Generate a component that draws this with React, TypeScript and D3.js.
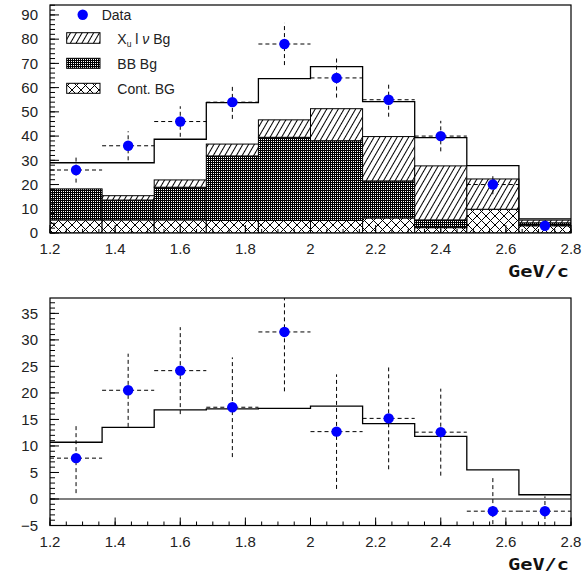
import React from "react";
import * as d3 from "d3";

// bin edges in GeV/c
const binEdges = [1.2, 1.36, 1.52, 1.68, 1.84, 2.0, 2.16, 2.32, 2.48, 2.64, 2.8];

// upper panel
const dataTop = [26, 36, 46, 54, 78, 64, 55, 40, 20, 3];
const errTop = [5.2, 6.0, 6.3, 6.9, 8.7, 8.1, 7.0, 6.3, 4.0, 1.7];
const contBg = [5.4, 5.4, 5.4, 5.2, 5.2, 5.2, 6.2, 2.2, 9.8, 3.0];
const bbBg = [12.8, 8.2, 13.5, 26.6, 34.3, 32.9, 15.3, 3.2, 0, 1.2];
const xulnuBg = [0, 1.8, 3.0, 4.9, 7.2, 13.2, 18.3, 22.3, 12.5, 1.1];
const totalTop = [29.0, 29.0, 38.7, 53.8, 63.7, 68.7, 54.2, 39.4, 27.8, 5.8];

// lower panel (background subtracted)
const dataBot = [7.7, 20.5, 24.2, 17.3, 31.5, 12.7, 15.2, 12.6, -2.3, -2.3];
const errBot = [6.6, 6.9, 8.2, 9.4, 11.2, 10.8, 9.6, 8.2, 6.4, 2.8];
const fitBot = [10.7, 13.5, 16.8, 17.0, 17.1, 17.5, 14.2, 11.8, 5.5, 0.8];

const xTicks = [1.2, 1.4, 1.6, 1.8, 2.0, 2.2, 2.4, 2.6, 2.8];
const xTickLabels = ["1.2", "1.4", "1.6", "1.8", "2", "2.2", "2.4", "2.6", "2.8"];
const yTicksTop = [0, 10, 20, 30, 40, 50, 60, 70, 80, 90];
const yTicksBot = [-5, 0, 5, 10, 15, 20, 25, 30, 35];
const yTickLabelsBot = ["\u22125", "0", "5", "10", "15", "20", "25", "30", "35"];

const X0 = 50;
const X1 = 571;
const x = d3.scaleLinear().domain([1.2, 2.8]).range([X0, X1]);

const font = "'Liberation Sans', Arial, sans-serif";

type PanelProps = {
  y: d3.ScaleLinear<number, number>;
  top: number;
  bottom: number;
  yTicks: number[];
  yLabels: string[];
  minorStep: number;
};

function Axes({ y, top, bottom, yTicks, yLabels, minorStep }: PanelProps) {
  const [d0, d1] = y.domain();
  const minorY = d3.range(Math.ceil(d0 / minorStep) * minorStep, d1 + 1e-9, minorStep);
  const minorX = d3.range(1.2, 2.8001, 0.05);
  return (
    <g>
      <rect x={X0} y={top} width={X1 - X0} height={bottom - top} fill="none" stroke="#000" strokeWidth={1.2} />
      {minorY.map((v, i) => (
        <line key={"my" + i} x1={X0} x2={X0 + 5} y1={y(v)} y2={y(v)} stroke="#000" strokeWidth={1} />
      ))}
      {yTicks.map((v, i) => (
        <g key={"y" + i}>
          <line x1={X0} x2={X0 + 9} y1={y(v)} y2={y(v)} stroke="#000" strokeWidth={1} />
          <text x={38} y={y(v) + 5.3} textAnchor="end" fontFamily={font} fontSize={15} fill="#222">
            {yLabels[i]}
          </text>
        </g>
      ))}
      {minorX.map((v, i) => (
        <line key={"mx" + i} x1={x(v)} x2={x(v)} y1={bottom} y2={bottom - 4} stroke="#000" strokeWidth={1} />
      ))}
      {xTicks.map((v, i) => (
        <g key={"x" + i}>
          <line x1={x(v)} x2={x(v)} y1={bottom} y2={bottom - 8} stroke="#000" strokeWidth={1} />
          <text x={x(v)} y={bottom + 21} textAnchor="middle" fontFamily={font} fontSize={15} fill="#222">
            {xTickLabels[i]}
          </text>
        </g>
      ))}
      <text
        x={508}
        y={bottom + 44}
        fontFamily="'DejaVu Sans Mono', 'Liberation Mono', monospace"
        fontWeight="bold"
        fontSize={15}
        textLength={61}
        lengthAdjust="spacingAndGlyphs"
        fill="#111"
      >
        GeV/c
      </text>
    </g>
  );
}

function stepPath(vals: number[], y: d3.ScaleLinear<number, number>) {
  const pts: [number, number][] = vals.map((v, i) => [binEdges[i], v]);
  pts.push([binEdges[binEdges.length - 1], vals[vals.length - 1]]);
  return d3
    .line<[number, number]>()
    .x((d) => x(d[0]))
    .y((d) => y(d[1]))
    .curve(d3.curveStepAfter)(pts) as string;
}

function DataPoints({ vals, errs, y }: { vals: number[]; errs: number[]; y: d3.ScaleLinear<number, number> }) {
  return (
    <g>
      {vals.map((v, i) => {
        const lo = binEdges[i];
        const hi = binEdges[i + 1];
        const cx = x((lo + hi) / 2);
        return (
          <g key={i}>
            <line x1={x(lo)} x2={x(hi)} y1={y(v)} y2={y(v)} stroke="#000" strokeWidth={1} strokeDasharray="4,3" />
            <line x1={cx} x2={cx} y1={y(v - errs[i])} y2={y(v + errs[i])} stroke="#000" strokeWidth={1} strokeDasharray="4,3" />
          </g>
        );
      })}
      {vals.map((v, i) => (
        <circle key={"c" + i} cx={x((binEdges[i] + binEdges[i + 1]) / 2)} cy={y(v)} r={5.2} fill="#0000ff" />
      ))}
    </g>
  );
}

export default function App() {
  const yT = d3.scaleLinear().domain([0, 94.1]).range([233, 5]);
  const yB = d3.scaleLinear().domain([-5, 37.9]).range([525.5, 298]);

  const rows = dataTop.map((_, i) => ({
    i,
    cont: contBg[i],
    bb: bbBg[i],
    xu: xulnuBg[i],
  }));
  const keys = ["cont", "bb", "xu"];
  const fills: Record<string, string> = { cont: "url(#cross)", bb: "url(#mesh)", xu: "url(#hatch)" };
  const stacked = d3.stack<(typeof rows)[number]>().keys(keys)(rows);

  return (
    <div style={{ position: "absolute", left: 0, top: 0 }}>
      <svg width={587} height={572} style={{ display: "block", background: "#fff" }}>
        <defs>
          <pattern id="hatch" width={5} height={5} patternUnits="userSpaceOnUse" patternTransform="rotate(30)">
            <rect width={5} height={5} fill="#fff" />
            <line x1={2.5} y1={0} x2={2.5} y2={5} stroke="#000" strokeWidth={1} />
          </pattern>
          <pattern id="mesh" width={2} height={2} patternUnits="userSpaceOnUse">
            <rect width={2} height={2} fill="#000" />
            <rect x={1} y={1} width={1} height={1} fill="#fff" />
          </pattern>
          <pattern id="cross" width={9} height={9} patternUnits="userSpaceOnUse">
            <rect width={9} height={9} fill="#fff" />
            <path d="M0,0L9,9M9,0L0,9" stroke="#000" strokeWidth={1} />
          </pattern>
          <clipPath id="clipTop">
            <rect x={X0} y={5} width={X1 - X0} height={228} />
          </clipPath>
          <clipPath id="clipBot">
            <rect x={X0} y={298} width={X1 - X0} height={227.5} />
          </clipPath>
        </defs>

        {/* upper panel */}
        <g clipPath="url(#clipTop)">
          {stacked.map((layer) =>
            layer.map((d, i) =>
              d[1] - d[0] > 0 ? (
                <rect
                  key={layer.key + i}
                  x={x(binEdges[i])}
                  y={yT(d[1])}
                  width={x(binEdges[i + 1]) - x(binEdges[i])}
                  height={yT(d[0]) - yT(d[1])}
                  fill={fills[layer.key]}
                  stroke="#000"
                  strokeWidth={1}
                />
              ) : null
            )
          )}
          <path d={stepPath(totalTop, yT)} fill="none" stroke="#000" strokeWidth={1.3} />
          <DataPoints vals={dataTop} errs={errTop} y={yT} />
        </g>
        <Axes y={yT} top={5} bottom={233} yTicks={yTicksTop} yLabels={yTicksTop.map(String)} minorStep={2} />

        {/* legend */}
        <g fontFamily={font} fontSize={14} fill="#222">
          <circle cx={82.7} cy={14.7} r={5.2} fill="#0000ff" />
          <text x={101.7} y={19.5}>Data</text>
          <rect x={66.7} y={32.7} width={33.3} height={10.6} fill="url(#hatch)" stroke="#000" />
          <text x={117.3} y={44.2}>
            X<tspan fontSize={8.5} dy={3}>u</tspan>
            <tspan dy={-3}> l </tspan>
            <tspan fontStyle="italic">{"\u03bd"}</tspan>
            <tspan>{"  Bg"}</tspan>
          </text>
          <rect x={66.7} y={58.3} width={33.3} height={10} fill="url(#mesh)" stroke="#000" />
          <text x={117.3} y={68.5}>BB Bg</text>
          <rect x={66.7} y={83.3} width={33.3} height={10} fill="url(#cross)" stroke="#000" />
          <text x={117.3} y={93.5}>Cont. BG</text>
        </g>

        {/* lower panel */}
        <g clipPath="url(#clipBot)">
          <line x1={X0} x2={X1} y1={yB(0)} y2={yB(0)} stroke="#000" strokeWidth={1.2} />
          <path d={stepPath(fitBot, yB)} fill="none" stroke="#000" strokeWidth={1.3} />
          <DataPoints vals={dataBot} errs={errBot} y={yB} />
        </g>
        <Axes y={yB} top={298} bottom={525.5} yTicks={yTicksBot} yLabels={yTickLabelsBot} minorStep={1} />
      </svg>
    </div>
  );
}
